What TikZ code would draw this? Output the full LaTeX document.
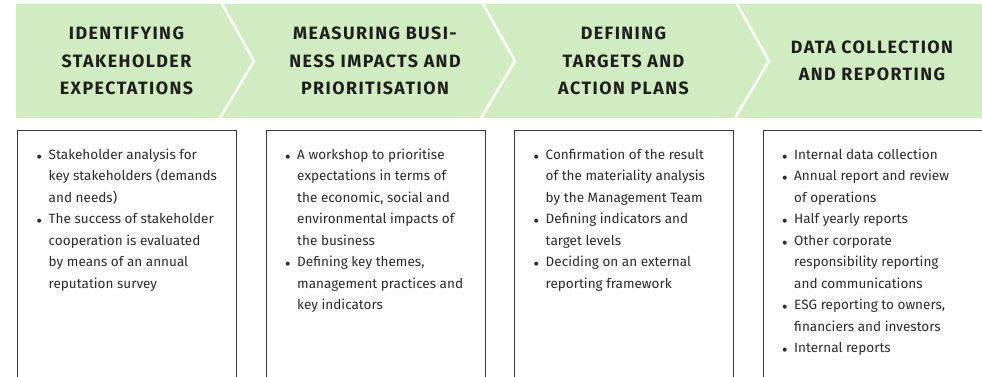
\documentclass[tikz,border=0pt]{standalone}
\usepackage{fontspec}
\setmainfont{Fira Sans}
\newfontfamily\stagefont[LetterSpace=8]{Fira Sans}
\usepackage{xcolor}
\usetikzlibrary{positioning}
\definecolor{bandgreen}{RGB}{209,236,193}
\definecolor{inkgray}{RGB}{45,45,45}
\definecolor{framegray}{RGB}{60,60,60}
\newcommand\itembullet{\makebox[9pt][l]{$\scriptstyle\bullet$}}
\tikzset{
band/.style = { fill = bandgreen, draw = none },
stage/.style = { align = center, text = black!88, font = \stagefont\bfseries\fontsize{13.4}{20.6}\selectfont },
panel/.style = { rectangle, draw = framegray, line width = 0.75pt, fill = white, anchor = north west, minimum width = 164.25pt, minimum height = 200pt },
notes/.style = { anchor = north west, inner sep = 0pt, text = inkgray, font = \fontsize{10.15}{16.1}\selectfont },
}
\tikzset{
pics/divider/.style = {
        code = {
        \path[draw = white, line width = 1.9pt] (0, 0) -- (32, 57) -- (-2, 114);
        }
    }
}

\begin{document}
\begin{tikzpicture}[x = 0.75pt, y = -0.75pt]
    \useasboundingbox (0, 0) rectangle (982, 377);
    \clip (0, 0) rectangle (982, 377);
    % green process band with chevron dividers
    \path[band] (16, 4) rectangle (982, 118);
    \draw (222, 4) pic{divider};
    \draw (483, 4) pic{divider};
    \draw (737, 4) pic{divider};
    \node[stage] (head1) at (126.5, 61) {IDENTIFYING\\STAKEHOLDER\\EXPECTATIONS};
    \node[stage] (head2) at (375, 61) {MEASURING BUSI-\\NESS IMPACTS AND\\PRIORITISATION};
    \node[stage] (head3) at (623.5, 61) {DEFINING\\TARGETS AND\\ACTION PLANS};
    \node[stage] (head4) at (872, 61) {DATA COLLECTION\\AND REPORTING};
    % description panels
    \node[panel] (box1) at (17, 130) {};
    \node[panel] (box2) at (265.5, 130) {};
    \node[panel] (box3) at (514, 130) {};
    \node[panel] (box4) at (762.5, 130) {};
    \node[notes] (note1) at ([xshift = 14.6pt, yshift = -10.5pt] box1.north west) {\begin{tabular}{@{}l@{}l@{}}
        \itembullet & Stakeholder analysis for\\
        & key stakeholders (demands\\
        & and needs)\\
        \itembullet & The success of stakeholder\\
        & cooperation is evaluated\\
        & by means of an annual\\
        & reputation survey
    \end{tabular}};
    \node[notes] (note2) at ([xshift = 14.6pt, yshift = -10.5pt] box2.north west) {\begin{tabular}{@{}l@{}l@{}}
        \itembullet & A workshop to prioritise\\
        & expectations in terms of\\
        & the economic, social and\\
        & environmental impacts of\\
        & the business\\
        \itembullet & Defining key themes,\\
        & management practices and\\
        & key indicators
    \end{tabular}};
    \node[notes] (note3) at ([xshift = 14.6pt, yshift = -10.5pt] box3.north west) {\begin{tabular}{@{}l@{}l@{}}
        \itembullet & Confirmation of the result\\
        & of the materiality analysis\\
        & by the Management Team\\
        \itembullet & Defining indicators and\\
        & target levels\\
        \itembullet & Deciding on an external\\
        & reporting framework
    \end{tabular}};
    \node[notes] (note4) at ([xshift = 14.6pt, yshift = -10.5pt] box4.north west) {\begin{tabular}{@{}l@{}l@{}}
        \itembullet & Internal data collection\\
        \itembullet & Annual report and review\\
        & of operations\\
        \itembullet & Half yearly reports\\
        \itembullet & Other corporate\\
        & responsibility reporting\\
        & and communications\\
        \itembullet & ESG reporting to owners,\\
        & financiers and investors\\
        \itembullet & Internal reports
    \end{tabular}};
\end{tikzpicture}
\end{document}
